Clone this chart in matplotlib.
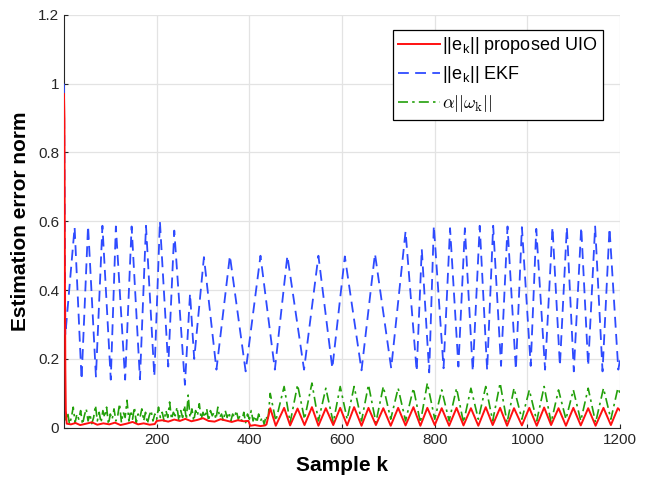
import matplotlib
matplotlib.use('Agg')
import matplotlib.pyplot as plt

plt.rcParams['font.family'] = ['Liberation Sans', 'DejaVu Sans']
plt.rcParams['mathtext.fontset'] = 'cm'

# EKF error norm: peaks and troughs
ekf_k = [0, 3, 23, 38, 52, 69, 83, 101, 112, 132, 146, 164, 177, 195, 207, 225,
         238, 261, 272, 281, 302, 329, 358, 392, 424, 455, 482, 518, 549, 579,
         606, 642, 671, 706, 737, 761, 772, 788, 798, 819, 833, 851, 865, 882,
         897, 913, 926, 943, 957, 975, 988, 1007, 1019, 1038, 1054, 1070, 1085,
         1100, 1116, 1131, 1146, 1162, 1177, 1196, 1200]
ekf_err = [1.0, 0.27, 0.583, 0.14, 0.587, 0.149, 0.587, 0.14, 0.585, 0.14, 0.585,
           0.141, 0.587, 0.149, 0.600, 0.178, 0.573, 0.125, 0.39, 0.20, 0.496,
           0.169, 0.50, 0.164, 0.50, 0.169, 0.50, 0.169, 0.50, 0.173, 0.498,
           0.167, 0.506, 0.173, 0.571, 0.164, 0.519, 0.161, 0.587, 0.173, 0.58,
           0.178, 0.58, 0.164, 0.587, 0.167, 0.587, 0.18, 0.585, 0.169, 0.583,
           0.18, 0.578, 0.169, 0.583, 0.18, 0.583, 0.164, 0.583, 0.18, 0.585,
           0.164, 0.58, 0.169, 0.2]

# proposed UIO error norm
uio_k = [0, 1, 2, 3, 4, 6, 15, 25, 35, 48, 60, 72, 85, 98, 110, 122, 135, 148,
         160, 172, 185, 196, 200, 212, 225, 238, 250, 262, 275, 288, 300, 312,
         325, 338, 350, 362, 375, 388, 398, 402, 412, 424, 434,
         437, 445, 457, 475, 488, 504, 519, 535, 549, 565, 581, 596, 611, 626,
         642, 657, 673, 689, 705, 721, 737, 754, 769, 784, 800, 815, 831, 847,
         862, 878, 894, 910, 925, 941, 956, 971, 988, 1004, 1020, 1036, 1051,
         1067, 1083, 1099, 1115, 1131, 1147, 1164, 1180, 1195, 1200]
uio_err = [0.97, 0.9, 0.45, 0.17, 0.05, 0.012, 0.01, 0.014, 0.008, 0.012, 0.016,
           0.009, 0.013, 0.01, 0.015, 0.008, 0.012, 0.017, 0.01, 0.013, 0.009,
           0.011, 0.02, 0.022, 0.018, 0.024, 0.02, 0.026, 0.019, 0.023, 0.028,
           0.02, 0.018, 0.025, 0.021, 0.017, 0.022, 0.019, 0.02, 0.006, 0.008,
           0.005, 0.007,
           0.01, 0.057, 0.006, 0.058, 0.007, 0.056, 0.008, 0.06, 0.006, 0.057,
           0.008, 0.058, 0.007, 0.06, 0.006, 0.058, 0.008, 0.057, 0.006, 0.058,
           0.007, 0.06, 0.006, 0.058, 0.008, 0.057, 0.006, 0.058, 0.007, 0.057,
           0.006, 0.06, 0.008, 0.058, 0.006, 0.057, 0.007, 0.058, 0.006, 0.059,
           0.008, 0.057, 0.006, 0.058, 0.007, 0.057, 0.006, 0.058, 0.008, 0.057,
           0.05]

# alpha * ||omega_k||, noisy part (every 4 samples) then the periodic part
w_noise = [0.05, 0.02, 0.045, 0.01, 0.03, 0.06, 0.015, 0.04, 0.025, 0.05, 0.01,
           0.035, 0.055, 0.02, 0.04, 0.012, 0.03, 0.065, 0.02, 0.045, 0.015,
           0.05, 0.03, 0.06, 0.01, 0.04, 0.025, 0.055, 0.02, 0.035, 0.07, 0.015,
           0.045, 0.03, 0.08, 0.02, 0.05, 0.025, 0.06, 0.015, 0.04, 0.03, 0.055,
           0.02, 0.045, 0.012, 0.035, 0.05, 0.02, 0.04, 0.025, 0.06, 0.03, 0.045,
           0.02, 0.05, 0.03, 0.075, 0.025, 0.045, 0.035, 0.06, 0.02, 0.05, 0.03,
           0.065, 0.025, 0.095, 0.03, 0.055, 0.02, 0.05, 0.035, 0.07, 0.025,
           0.045, 0.03, 0.055, 0.02, 0.05, 0.035, 0.045, 0.025, 0.06, 0.03,
           0.04, 0.02, 0.05, 0.03, 0.045, 0.02, 0.04, 0.03, 0.05, 0.025, 0.035,
           0.02, 0.045, 0.015, 0.04, 0.025, 0.05, 0.02, 0.035, 0.015, 0.04,
           0.02, 0.03, 0.01, 0.035]
w_noise_k = list(range(0, 4 * len(w_noise), 4))
w_per_k = [440, 445, 457, 475, 488, 504, 519, 535, 549, 565, 581, 596, 611, 626,
           642, 657, 673, 689, 705, 721, 737, 754, 769, 784, 800, 815, 831, 847,
           862, 878, 894, 910, 925, 941, 956, 971, 988, 1004, 1020, 1036, 1051,
           1067, 1083, 1099, 1115, 1131, 1147, 1164, 1180, 1195, 1200]
w_per = [0.02, 0.10, 0.02, 0.12, 0.015, 0.125, 0.025, 0.13, 0.02, 0.115, 0.015,
         0.12, 0.025, 0.12, 0.02, 0.125, 0.015, 0.12, 0.025, 0.115, 0.02, 0.115,
         0.015, 0.13, 0.025, 0.11, 0.02, 0.115, 0.015, 0.115, 0.025, 0.12, 0.02,
         0.13, 0.015, 0.115, 0.025, 0.11, 0.02, 0.12, 0.015, 0.11, 0.025, 0.11,
         0.02, 0.115, 0.015, 0.115, 0.025, 0.115, 0.1]

w_k = w_noise_k + w_per_k
w_val = w_noise + w_per

fig = plt.figure(figsize=(6.46, 4.78), dpi=100)
ax = fig.add_axes([0.099, 0.105, 0.861, 0.864])

l3, = ax.plot(w_k, w_val, color='#22a00a', lw=1.2, dashes=(6, 2.5, 1.5, 2.5), zorder=2)
l2, = ax.plot(ekf_k, ekf_err, color='#2e4bff', lw=1.3, dashes=(6, 3.5), zorder=3)
l1, = ax.plot(uio_k, uio_err, color='#ff1010', lw=1.4, zorder=4)

ax.set_xlim(0, 1200)
ax.set_ylim(0, 1.2)
ax.set_xticks([200, 400, 600, 800, 1000, 1200])
ax.set_yticks([0, 0.2, 0.4, 0.6, 0.8, 1.0, 1.2])
ax.set_yticklabels(['0', '0.2', '0.4', '0.6', '0.8', '1', '1.2'])
ax.grid(True, color='#e3e3e3', lw=0.9)
ax.set_axisbelow(True)
for s in ['top', 'right']:
    ax.spines[s].set_visible(False)
ax.spines['left'].set_color('#262626')
ax.spines['bottom'].set_color('#262626')
ax.tick_params(direction='in', labelsize=11, length=3, colors='#262626')

ax.set_xlabel('Sample k', fontsize=15, fontweight='bold', labelpad=7)
ax.set_ylabel('Estimation error norm', fontsize=15, fontweight='bold', labelpad=6)

leg = ax.legend([l1, l2, l3],
                [r'||e$_\mathregular{k}$|| proposed UIO', r'||e$_\mathregular{k}$|| EKF',
                 r'$\alpha||\omega_\mathrm{k}||$'],
                loc='upper right', bbox_to_anchor=(0.969, 0.964), borderaxespad=0,
                fontsize=13, handlelength=2.3, handletextpad=0.15, borderpad=0.3,
                labelspacing=0.45, fancybox=False, framealpha=1)
leg.get_frame().set_edgecolor('black')
leg.get_frame().set_linewidth(0.9)

fig.savefig('out.png', dpi=100)
